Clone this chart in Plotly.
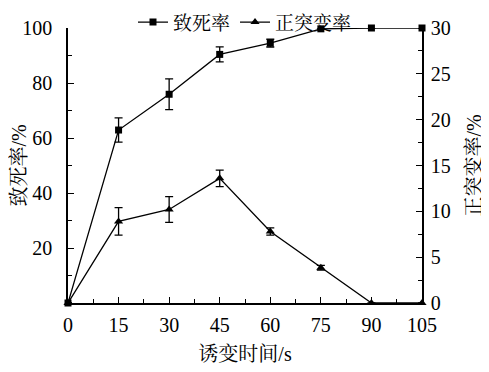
import plotly.graph_objects as go

time_s = [0, 15, 30, 45, 60, 75, 90, 105]
lethality = [0, 62.9, 75.9, 90.4, 94.5, 99.7, 100, 100]
lethality_err = [0, 4.4, 5.6, 2.7, 1.4, 0, 0, 0]
pos_mut = [0, 8.9, 10.2, 13.6, 7.8, 3.85, 0, 0]
pos_mut_err = [0, 1.5, 1.4, 0.9, 0.4, 0.25, 0, 0]

x_ticks = [0, 15, 30, 45, 60, 75, 90, 105]
left_ticks = [20, 40, 60, 80, 100]
right_ticks = [0, 5, 10, 15, 20, 25, 30]

FONT = "Liberation Serif, Times New Roman, Noto Serif CJK SC, Noto Sans CJK SC, serif"

fig = go.Figure()
fig.add_trace(go.Scatter(
    x=time_s, y=lethality, name="致死率", mode="lines+markers",
    line=dict(color="black", width=1.3),
    marker=dict(symbol="square", size=7, color="black"),
    error_y=dict(type="data", array=lethality_err, color="black", thickness=1.3, width=4),
    cliponaxis=False,
))
fig.add_trace(go.Scatter(
    x=time_s, y=pos_mut, name="正突变率", mode="lines+markers", yaxis="y2",
    line=dict(color="black", width=1.3),
    marker=dict(symbol="triangle-up", size=8, color="black"),
    error_y=dict(type="data", array=pos_mut_err, color="black", thickness=1.3, width=4),
    cliponaxis=False,
))

axis_common = dict(
    showline=True, linecolor="black", linewidth=1.6, ticks="inside", ticklen=6,
    tickcolor="black", tickwidth=1.2, showgrid=False, zeroline=False,
    tickfont=dict(family=FONT, size=20, color="black"), automargin=False,
)

fig.update_layout(
    width=481, height=364,
    margin=dict(l=60, r=67, t=20, b=69, autoexpand=False),
    paper_bgcolor="white", plot_bgcolor="white",
    font=dict(family=FONT, color="black", size=20),
    showlegend=True,
    legend=dict(orientation="h", x=0.5, xanchor="center",
                y=1.09, yanchor="top", itemwidth=30,
                font=dict(size=19, family=FONT), tracegroupgap=0,
                bgcolor="rgba(0,0,0,0)"),
    xaxis=dict(range=[0, 105], tickvals=x_ticks, ticktext=[str(v) for v in x_ticks],
               minor=dict(dtick=7.5, tick0=0, ticks="inside", ticklen=4, tickcolor="black"),
               title=dict(text="诱变时间/s", font=dict(size=20), standoff=12),
               ticklabelstandoff=3,
               **axis_common),
    yaxis=dict(range=[0, 100], tickvals=left_ticks,
               minor=dict(dtick=10, tick0=0, ticks="inside", ticklen=4, tickcolor="black"),
               title=dict(text="致死率/%", font=dict(size=20), standoff=0),
               ticklabelstandoff=10,
               **axis_common),
    yaxis2=dict(range=[0, 30], tickvals=right_ticks, overlaying="y", side="right",
                minor=dict(dtick=2.5, tick0=0, ticks="inside", ticklen=4, tickcolor="black"),
                title=dict(text="正突变率/%", font=dict(size=20), standoff=17),
                ticklabelstandoff=3,
                **axis_common),
)

fig.write_html("out.html")
